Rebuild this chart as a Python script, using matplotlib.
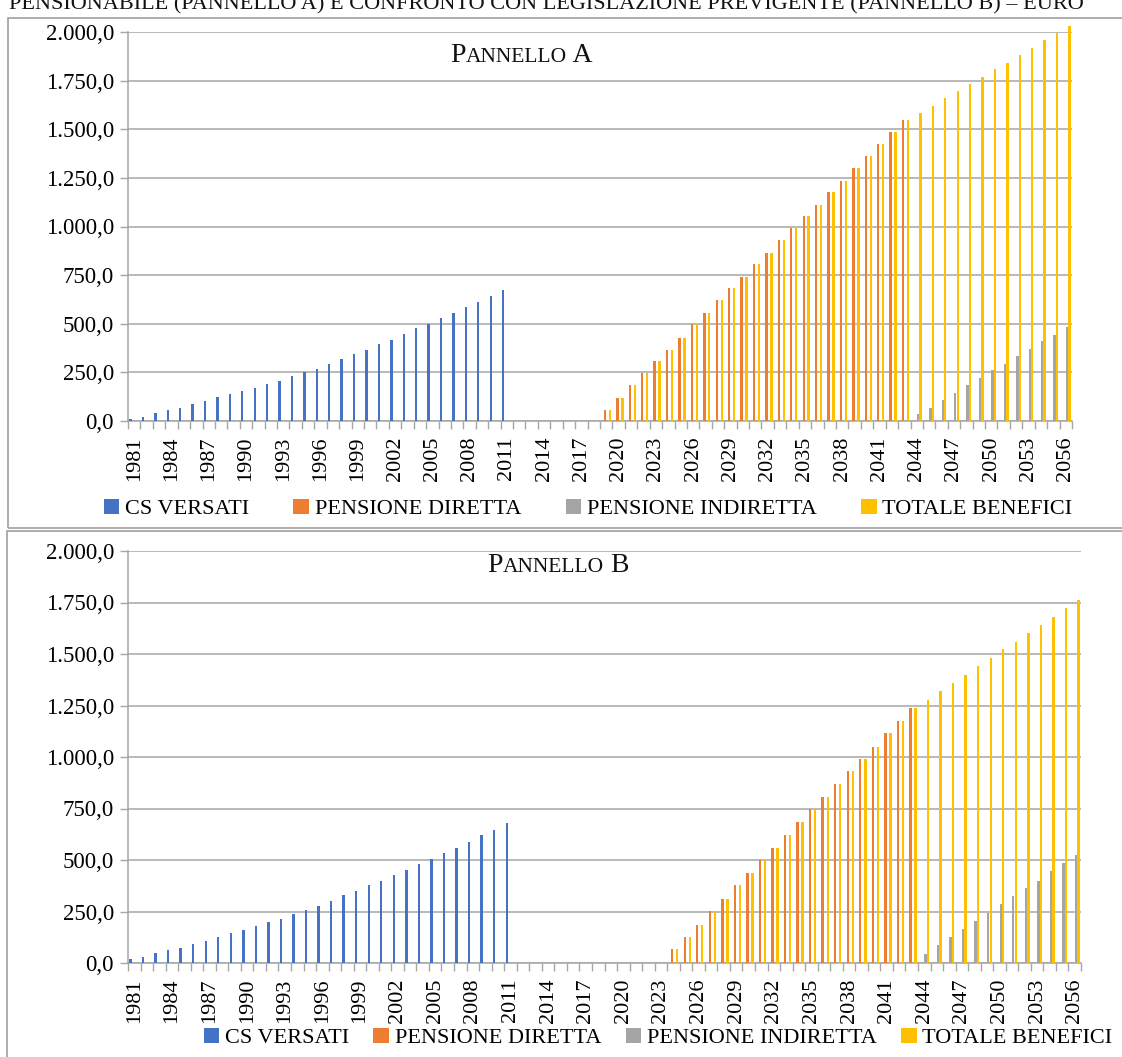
import numpy as np
import matplotlib
matplotlib.use('Agg')
import matplotlib.pyplot as plt
from matplotlib.patches import Rectangle
from matplotlib.offsetbox import TextArea, HPacker, AnnotationBbox
from matplotlib.ticker import FuncFormatter

plt.rcParams['font.family'] = ['Liberation Serif', 'DejaVu Serif']

# Anni e serie
anni = list(range(1981, 2057))
serie_nomi = ['CS VERSATI', 'PENSIONE DIRETTA', 'PENSIONE INDIRETTA', 'TOTALE BENEFICI']
colori = ['#4472C4', '#ED7D31', '#A5A5A5', '#FFC000']

# Pannello A
cs_a_inizio = 1981
cs_a = [12, 22, 40, 57, 69, 86, 103, 121, 138, 155, 172, 190, 207, 229, 250, 269,
        293, 321, 345, 367, 397, 419, 448, 477, 498, 528, 557, 586, 614, 643, 672]
diretta_a_inizio = 2019
diretta_a = [57, 119, 183, 248, 310, 367, 429, 497, 557, 621, 684, 741, 805, 866,
             930, 991, 1054, 1113, 1175, 1236, 1300, 1363, 1426, 1488, 1546]
indiretta_a_inizio = 2044
indiretta_a = [34, 69, 110, 143, 184, 219, 260, 293, 334, 369, 409, 443, 483]
totale_a_inizio = 2019
totale_a = [57, 119, 183, 248, 310, 367, 429, 497, 557, 621, 684, 741, 805, 866,
            930, 991, 1054, 1113, 1175, 1236, 1300, 1363, 1426, 1488, 1546,
            1586, 1620, 1659, 1695, 1735, 1767, 1808, 1843, 1884, 1916, 1957, 1993, 2031]

# Pannello B
cs_b_inizio = 1981
cs_b = [19, 31, 47, 63, 75, 91, 107, 128, 144, 162, 179, 198, 216, 237, 255, 279,
        302, 328, 351, 377, 399, 425, 451, 479, 503, 534, 560, 588, 620, 648, 679]
diretta_b_inizio = 2024
diretta_b = [66, 128, 185, 253, 312, 377, 435, 502, 560, 622, 683, 748, 805, 869,
             930, 992, 1050, 1115, 1175, 1240]
indiretta_b_inizio = 2044
indiretta_b = [42, 85, 124, 166, 204, 245, 284, 323, 365, 399, 446, 484, 523]
totale_b_inizio = 2024
totale_b = [66, 128, 185, 253, 312, 377, 435, 502, 560, 622, 683, 748, 805, 869,
            930, 992, 1050, 1115, 1175, 1240,
            1278, 1321, 1359, 1396, 1440, 1479, 1523, 1560, 1602, 1640, 1679, 1722, 1760]

y_ticks = [0, 250, 500, 750, 1000, 1250, 1500, 1750, 2000]


def serie_completa(inizio, valori):
    out = np.zeros(len(anni))
    i0 = anni.index(inizio)
    out[i0:i0 + len(valori)] = valori
    return out


def formato_it(v, pos):
    s = f"{v:,.1f}"
    return s.replace(',', 'X').replace('.', ',').replace('X', '.')


W, H = 1122, 1057
fig = plt.figure(figsize=(W / 100, H / 100), dpi=100)


def px(x0, y0, x1, y1):
    # rettangolo in pixel (origine in alto a sinistra) -> frazione figura
    return [x0 / W, 1 - y1 / H, (x1 - x0) / W, (y1 - y0) / H]


# Cornici dei due grafici
for (x0, y0, x1, y1) in [(8, 18, 1130, 528), (7, 531, 1130, 1070)]:
    fig.patches.append(Rectangle((x0 / W, 1 - y1 / H), (x1 - x0) / W, (y1 - y0) / H,
                                 transform=fig.transFigure, fill=False,
                                 edgecolor='#A0A0A0', linewidth=1.2))

# Titolo tagliato in alto
fig.text(546 / W, 1 - 9 / H,
         'PENSIONABILE (PANNELLO A) E CONFRONTO CON LEGISLAZIONE PREVIGENTE (PANNELLO B) – EURO',
         ha='center', va='baseline', fontsize=16, color='#111111')

pannelli = [
    dict(rect=px(128, 32, 1072, 421), lettera='A', titolo_xy=(521, 55),
         dati=[serie_completa(cs_a_inizio, cs_a), serie_completa(diretta_a_inizio, diretta_a),
               serie_completa(indiretta_a_inizio, indiretta_a), serie_completa(totale_a_inizio, totale_a)],
         legenda_y=509, legenda_x=588, colsp=2.0),
    dict(rect=px(128, 551, 1081, 963), lettera='B', titolo_xy=(558, 566),
         dati=[serie_completa(cs_b_inizio, cs_b), serie_completa(diretta_b_inizio, diretta_b),
               serie_completa(indiretta_b_inizio, indiretta_b), serie_completa(totale_b_inizio, totale_b)],
         legenda_y=1038, legenda_x=658, colsp=1.1),
]

x = np.arange(len(anni))
w = 0.2
for p in pannelli:
    ax = fig.add_axes(p['rect'])
    barre = []
    for k, (vals, col) in enumerate(zip(p['dati'], colori)):
        b = ax.bar(x + (k - 1.5) * w, vals, width=w * 0.95, color=col,
                   linewidth=0, clip_on=False, zorder=3)
        barre.append(b)

    ax.set_xlim(-0.5, len(anni) - 0.5)
    ax.set_ylim(0, 2000)
    ax.set_yticks(y_ticks)
    ax.yaxis.set_major_formatter(FuncFormatter(formato_it))
    ax.grid(axis='y', color='#A6A6A6', linewidth=1.1, zorder=0)
    ax.set_axisbelow(True)

    # tacche tra le categorie, etichette ogni 3 anni
    ax.set_xticks(np.arange(len(anni) + 1) - 0.5, minor=True)
    ax.set_xticks(x[::3])
    ax.set_xticklabels([str(a) for a in anni[::3]], rotation=90)
    ax.tick_params(axis='x', which='major', length=0, pad=11, labelsize=16)
    ax.tick_params(axis='x', which='minor', length=6, color='#A6A6A6', width=1)
    ax.tick_params(axis='y', length=6, color='#A6A6A6', width=1, labelsize=16.5, pad=4)

    for s in ['top', 'right']:
        ax.spines[s].set_visible(False)
    for s in ['left', 'bottom']:
        ax.spines[s].set_color('#A6A6A6')
        ax.spines[s].set_linewidth(1.1)

    # titolo del pannello in maiuscoletto
    parti = [TextArea('P', textprops=dict(fontsize=20, color='#111111')),
             TextArea('ANNELLO', textprops=dict(fontsize=15.5, color='#111111')),
             TextArea(' ' + p['lettera'], textprops=dict(fontsize=20, color='#111111'))]
    box = HPacker(children=parti, align='baseline', pad=0, sep=0)
    tx, ty = p['titolo_xy']
    ab = AnnotationBbox(box, (tx / W, 1 - ty / H), xycoords='figure fraction',
                        frameon=False, box_alignment=(0.5, 0.5))
    fig.add_artist(ab)

    fig.legend(barre, serie_nomi, loc='center', ncol=4,
               bbox_to_anchor=(p['legenda_x'] / W, 1 - p['legenda_y'] / H),
               frameon=False, fontsize=16, handlelength=0.7, handleheight=0.7,
               handletextpad=0.25, columnspacing=p['colsp'], borderpad=0)

fig.savefig('out.png', dpi=100)
